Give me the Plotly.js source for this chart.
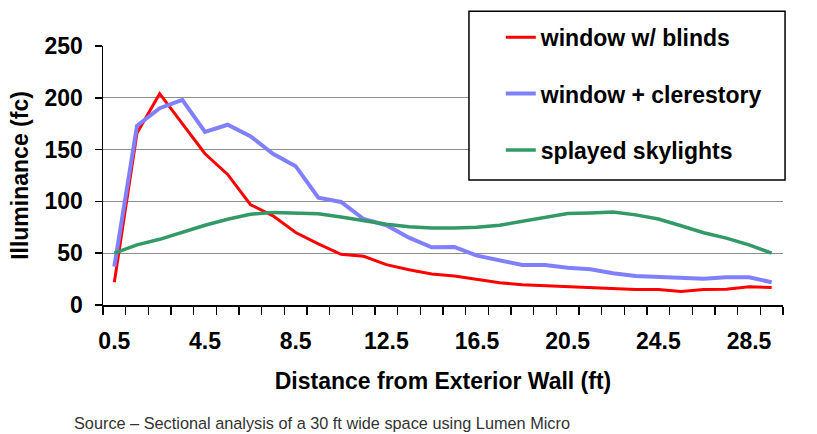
<!DOCTYPE html>
<html>
<head>
<meta charset="utf-8">
<script src="https://cdn.plot.ly/plotly-3.0.1.min.js"></script>
<style>
  html, body { margin: 0; padding: 0; background: #fff; }
  #chart_container { width: 817px; height: 434px; }
</style>
</head>
<body>
<div id="chart_container"></div>
<script>
// distance from wall, ft (0.5 ... 29.5)
var distance = [0.5, 1.5, 2.5, 3.5, 4.5, 5.5, 6.5, 7.5, 8.5, 9.5,
	10.5, 11.5, 12.5, 13.5, 14.5, 15.5, 16.5, 17.5, 18.5, 19.5,
	20.5, 21.5, 22.5, 23.5, 24.5, 25.5, 26.5, 27.5, 28.5, 29.5];

var windowBlinds = [22, 166, 204, 175, 146, 126, 97, 86, 70, 59,
	49, 47, 39, 34, 30, 28, 25, 21.5, 19.6, 18.6,
	17.7, 17, 16, 15, 15, 13, 15, 15.3, 17.5, 17];

var windowClerestory = [37, 173, 190, 198, 167, 174, 163, 146, 134, 103.5,
	99.5, 83, 77, 65, 55.7, 56, 47.6, 42.8, 38.6, 38.6,
	36, 34.4, 30.6, 28, 27, 26, 25.4, 26.7, 26.7, 22];

var splayedSkylights = [50, 58, 63.4, 70, 77, 82.7, 87.5, 89.4, 88.8, 88,
	85, 81.4, 78, 75.6, 74.3, 74.3, 75, 77, 80.7, 85,
	88.2, 88.8, 89.7, 87, 83, 76.5, 69.8, 64.6, 58, 50];

var xTickVals = [0.5, 4.5, 8.5, 12.5, 16.5, 20.5, 24.5, 28.5];
var xTickText = ['0.5', '4.5', '8.5', '12.5', '16.5', '20.5', '24.5', '28.5'];
var yTickVals = [0, 50, 100, 150, 200, 250];
var yGridVals = [50, 100, 150, 200];

// tick marks sit between the distance bins
var xBoundaries = [];
for (var b = 0; b <= distance.length; b++) xBoundaries.push(b);

var FONT = 'Liberation Sans, Arial, sans-serif';
var BOLD = { family: FONT, size: 23, color: '#000', weight: 'bold' };

var traces = [
	{
		x: distance, y: windowBlinds, name: 'window w/ blinds',
		type: 'scatter', mode: 'lines', legendgroup: 'a',
		line: { color: '#ff0000', width: 3 }
	},
	{
		x: distance, y: windowClerestory, name: 'window + clerestory',
		type: 'scatter', mode: 'lines', legendgroup: 'b',
		line: { color: '#8080ff', width: 4 }
	},
	{
		x: distance, y: splayedSkylights, name: 'splayed skylights',
		type: 'scatter', mode: 'lines', legendgroup: 'c',
		line: { color: '#339966', width: 3.5 }
	}
];

var layout = {
	width: 817,
	height: 434,
	margin: { l: 103, r: 34, t: 46, b: 129 },
	paper_bgcolor: '#fff',
	plot_bgcolor: '#fff',
	showlegend: true,
	legend: {
		x: 0.585, xanchor: 'left', xref: 'paper',
		y: 1.117, yanchor: 'top',
		bgcolor: 'rgba(0,0,0,0)',
		borderwidth: 0,
		traceorder: 'grouped',
		tracegroupgap: 23.5,
		itemwidth: 30,
		font: BOLD
	},
	// legend frame
	shapes: [
		{
			type: 'rect', xref: 'paper', yref: 'paper', layer: 'above',
			x0: 0.5382, x1: 1.003, y0: 0.4826, y1: 1.134,
			fillcolor: '#fff',
			line: { color: '#000', width: 1.5 }
		}
	],
	xaxis: {
		range: [0, 30],
		tickmode: 'array',
		tickvals: xTickVals,
		ticktext: xTickText,
		ticks: 'outside',
		ticklen: 8,
		tickcolor: 'rgba(0,0,0,0)',
		ticklabelstandoff: 7,
		showgrid: false,
		zeroline: false,
		showline: true,
		linecolor: '#000',
		linewidth: 1.5,
		tickfont: BOLD,
		minor: {
			tickmode: 'array',
			tickvals: xBoundaries,
			ticks: 'outside',
			ticklen: 8,
			tickwidth: 1.5,
			tickcolor: '#000',
			showgrid: false
		},
		title: {
			text: 'Distance from Exterior Wall (ft)',
			font: BOLD,
			standoff: 20
		}
	},
	yaxis: {
		range: [0, 250],
		tickmode: 'array',
		tickvals: yTickVals,
		ticks: 'outside',
		ticklen: 7,
		tickwidth: 1.5,
		tickcolor: '#000',
		ticklabelstandoff: 7,
		showgrid: false,
		zeroline: false,
		showline: true,
		linecolor: '#000',
		linewidth: 1.5,
		tickfont: BOLD,
		minor: {
			tickmode: 'array',
			tickvals: yGridVals,
			ticks: '',
			showgrid: true,
			gridcolor: '#8c8c8c',
			gridwidth: 1.2
		},
		title: {
			text: 'Illuminance (fc)',
			font: BOLD,
			standoff: 9
		}
	},
	annotations: [
		{
			text: 'Source \u2013 Sectional analysis of a 30 ft wide space using Lumen Micro',
			xref: 'paper', yref: 'paper',
			x: -0.0456, y: -0.4556,
			xanchor: 'left', yanchor: 'middle',
			showarrow: false,
			font: { family: FONT, size: 16.3, color: '#333' }
		}
	]
};

Plotly.newPlot('chart_container', traces, layout, { displayModeBar: false, staticPlot: true });
</script>
</body>
</html>
